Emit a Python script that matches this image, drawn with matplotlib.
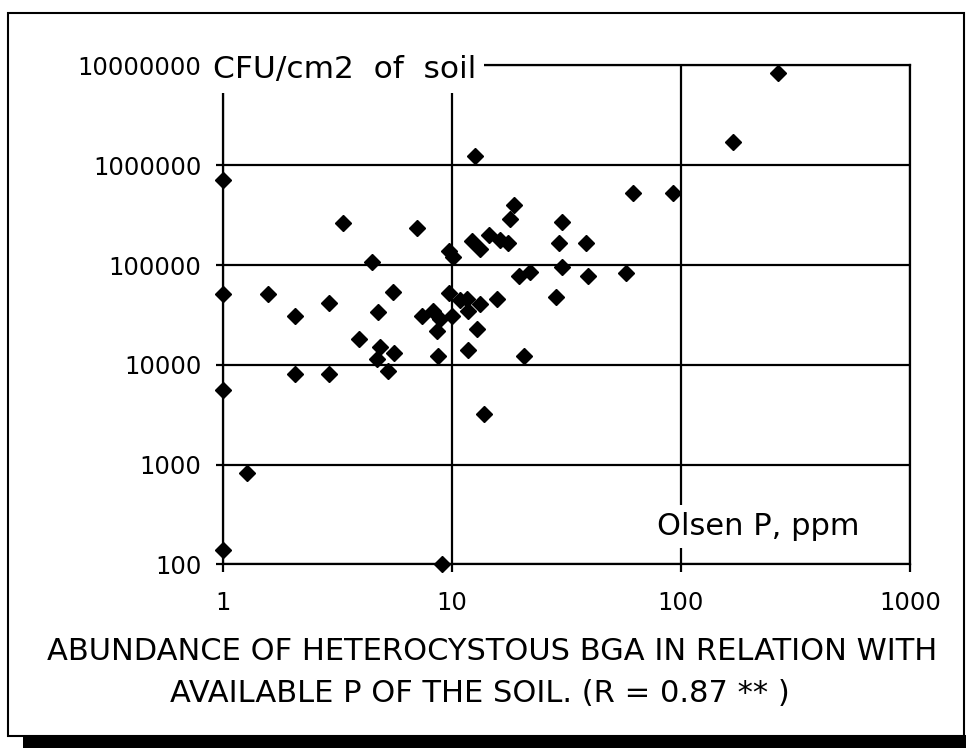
import matplotlib
matplotlib.use("Agg")
import matplotlib.pyplot as plt
from matplotlib.patches import Rectangle
from matplotlib.ticker import FixedLocator, FixedFormatter

# Olsen P (ppm) and heterocystous BGA abundance (CFU/cm2 of soil)
olsen_p = [1, 1, 1, 1, 1.27, 1.58, 2.06, 2.06, 2.91, 2.91,
           3.35, 3.92, 4.49, 4.74, 4.69, 4.85, 5.27, 5.54, 5.6, 7.05,
           7.37, 8.29, 8.57, 8.71, 8.86, 9.02, 9.73, 9.7, 10.0, 10.1,
           10.8, 11.6, 11.8, 11.8, 12.6, 12.2, 12.8, 13.2, 13.3, 13.8,
           14.5, 15.8, 16.2, 17.6, 17.9, 18.7, 19.7, 20.7, 21.9, 28.5,
           29.4, 30.1, 30.1, 38.4, 39.4, 57.3, 61.9, 92.6, 168, 264]
cfu = [718000, 51000, 5600, 140, 830, 51000, 31000, 8000, 42000, 8000,
       266000, 18000, 107000, 33500, 11400, 15000, 8700, 54000, 13200, 237000,
       31000, 35000, 22000, 12300, 29000, 100, 52000, 137000, 31000, 120000,
       45000, 46000, 35000, 14000, 1250000, 174000, 23000, 146000, 40500, 3200,
       202000, 46000, 180000, 166000, 292000, 397000, 78000, 12300, 85000, 48000,
       166000, 270000, 96000, 166000, 78500, 83000, 527000, 527000, 1700000, 8400000]

x_ticks = [1, 10, 100, 1000]
x_labels = ["1", "10", "100", "1000"]
y_ticks = [100, 1000, 10000, 100000, 1000000, 10000000]
y_labels = ["100", "1000", "10000", "100000", "1000000", "10000000"]

W, H = 966, 748
fig = plt.figure(figsize=(W / 100, H / 100), dpi=100)
fig.patch.set_facecolor("white")

# drop shadow + framed box
fig.patches.append(Rectangle((23 / W, 0), 1, 13 / H, transform=fig.transFigure,
                             facecolor="black", edgecolor="none", zorder=-20))
fig.patches.append(Rectangle((8 / W, 12 / H), 956 / W, 723 / H, transform=fig.transFigure,
                             facecolor="white", edgecolor="black", lw=1.5, zorder=-10))

ax = fig.add_axes([223 / W, (H - 564.3) / H, 687 / W, 498.8 / H])
ax.set_facecolor("none")
ax.set_xscale("log")
ax.set_yscale("log")
ax.set_xlim(1, 1000)
ax.set_ylim(100, 1e7)

ax.xaxis.set_major_locator(FixedLocator(x_ticks))
ax.xaxis.set_major_formatter(FixedFormatter(x_labels))
ax.yaxis.set_major_locator(FixedLocator(y_ticks))
ax.yaxis.set_major_formatter(FixedFormatter(y_labels))
ax.minorticks_off()

ax.grid(True, color="black", lw=1.6)
ax.set_axisbelow(True)
for s in ax.spines.values():
    s.set_linewidth(1.6)
    s.set_color("black")

ax.tick_params(axis="y", direction="out", length=5, width=1.6, pad=10.5, labelsize=17.5)
ax.tick_params(axis="x", direction="out", length=6, width=1.6, pad=13, labelsize=17.5)

ax.plot(olsen_p, cfu, linestyle="none", marker="D", ms=8.6, color="black",
        mew=1, clip_on=False, zorder=4)

ax.text(-0.015, 0.991, "CFU/cm2  of  soil", transform=ax.transAxes, fontsize=22.5,
        ha="left", va="center", zorder=5,
        bbox=dict(facecolor="white", edgecolor="none", pad=6))
ax.text(0.632, 0.075, "Olsen P, ppm", transform=ax.transAxes, fontsize=22,
        ha="left", va="center", zorder=5,
        bbox=dict(facecolor="white", edgecolor="none", pad=5))

fig.text(492 / W, 1 - 652 / H, "ABUNDANCE OF HETEROCYSTOUS BGA IN RELATION WITH",
         fontsize=22, ha="center", va="center")
fig.text(480 / W, 1 - 694 / H, "AVAILABLE P OF THE SOIL. (R = 0.87 ** )",
         fontsize=22, ha="center", va="center")

fig.savefig("out.png", dpi=100)
